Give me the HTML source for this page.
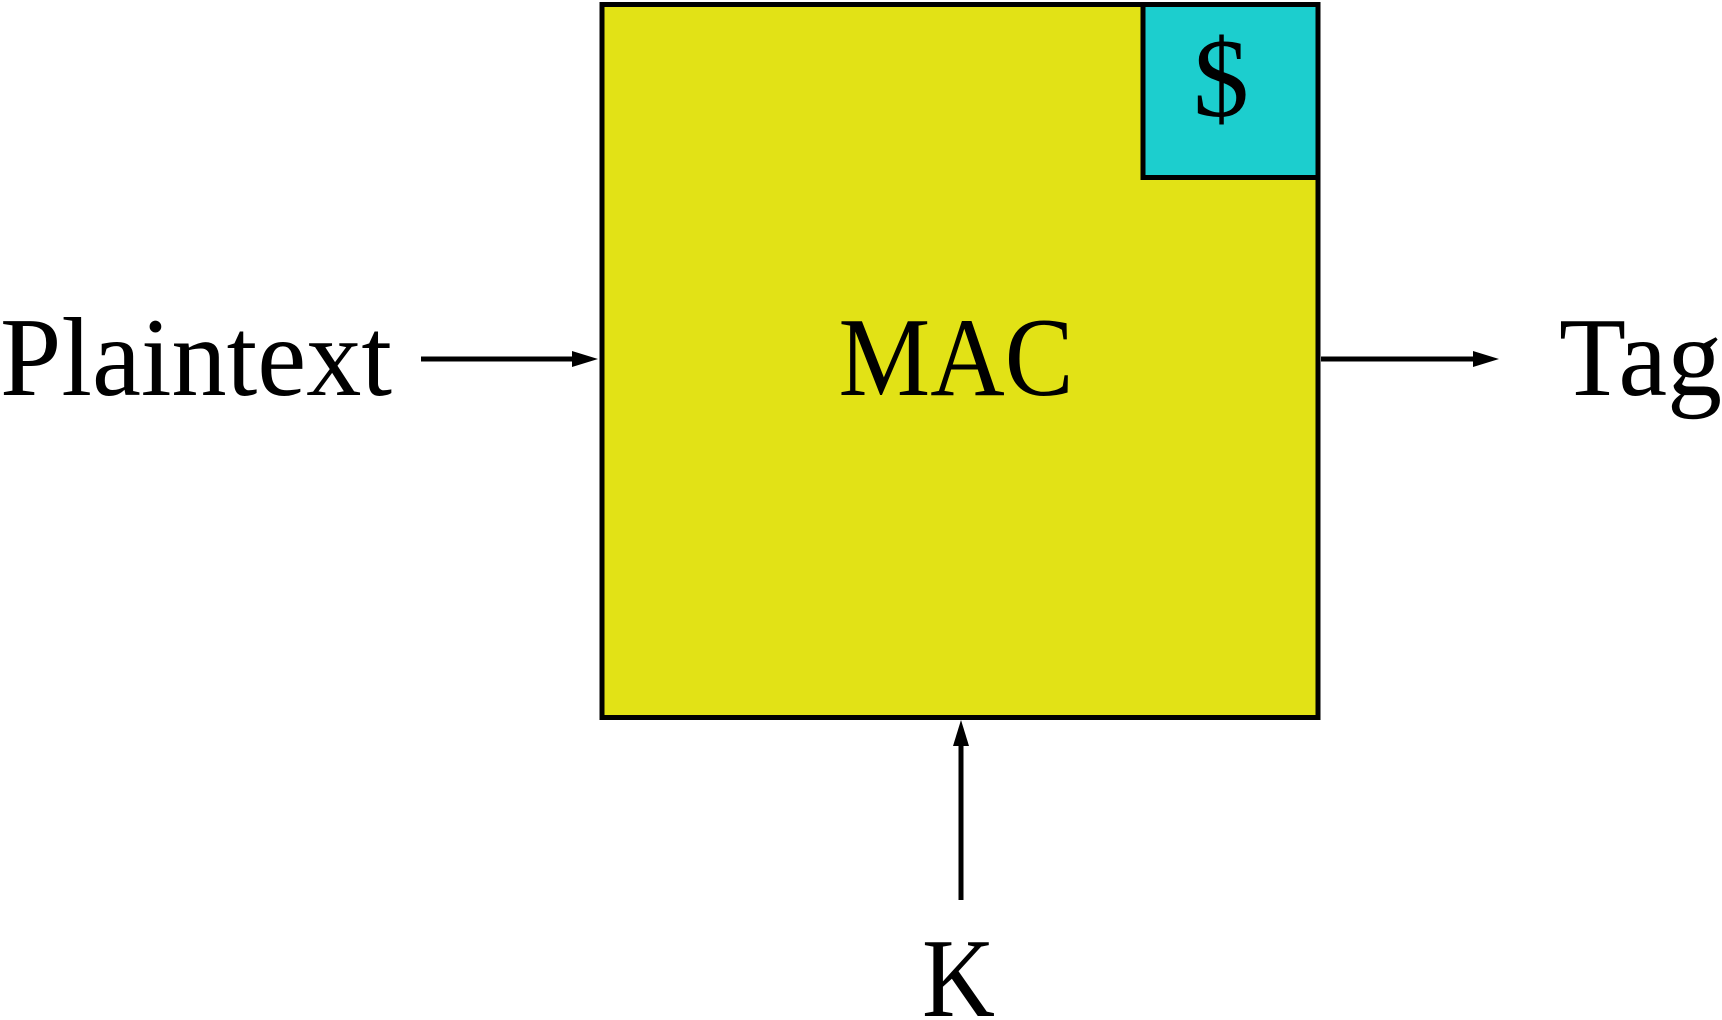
<!DOCTYPE html>
<html><head><meta charset="utf-8"><style>
html,body{margin:0;padding:0;background:#fff;width:1722px;height:1020px;overflow:hidden}
svg{display:block}
text{font-family:"Liberation Serif",serif;fill:#000}
</style></head><body>
<svg width="1722" height="1020" viewBox="0 0 1722 1020">
<rect x="602" y="4.5" width="716" height="713" fill="#e2e216" stroke="#000" stroke-width="5"/>
<rect x="1143" y="4.5" width="175" height="173" fill="#1ccece" stroke="#000" stroke-width="5"/>
<text x="1221" y="116" font-size="112" text-anchor="middle">$</text>
<text x="956" y="395" font-size="112" text-anchor="middle" textLength="235" lengthAdjust="spacingAndGlyphs">MAC</text>
<text x="0" y="395" font-size="112" textLength="392" lengthAdjust="spacingAndGlyphs">Plaintext</text>
<text x="1559" y="395" font-size="112" textLength="163" lengthAdjust="spacingAndGlyphs">Tag</text>
<text x="922" y="1016" font-size="112" textLength="73" lengthAdjust="spacingAndGlyphs">K</text>
<line x1="421" y1="359" x2="578" y2="359" stroke="#000" stroke-width="5"/>
<path d="M598,359 L572,351 L572,367 Z" fill="#000"/>
<line x1="1321" y1="359" x2="1479" y2="359" stroke="#000" stroke-width="5"/>
<path d="M1499,359 L1473,351 L1473,367 Z" fill="#000"/>
<line x1="961" y1="900" x2="961" y2="740" stroke="#000" stroke-width="5"/>
<path d="M961,720 L953,746 L969,746 Z" fill="#000"/>
</svg>
</body></html>
